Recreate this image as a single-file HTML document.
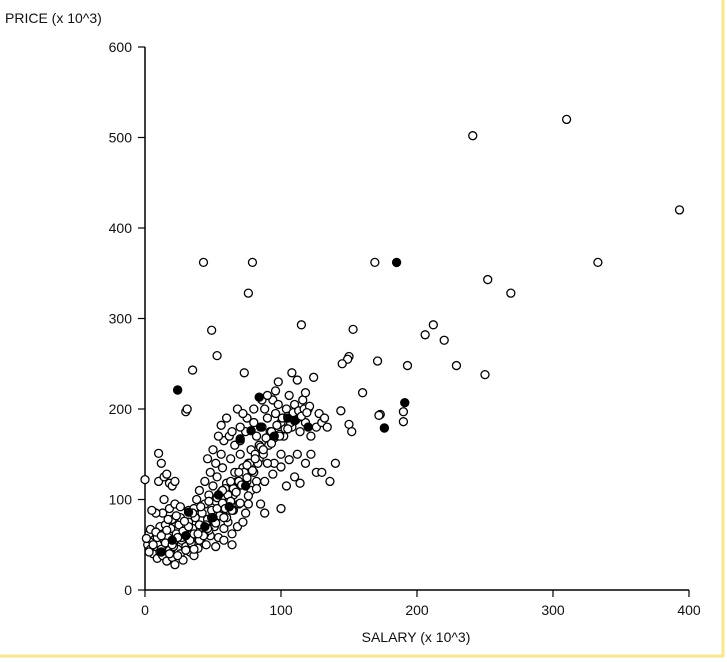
<!DOCTYPE html>
<html><head><meta charset="utf-8"><style>
html,body{margin:0;padding:0;background:#fff;}
svg{display:block;font-family:"Liberation Sans",sans-serif;}
</style></head><body>
<svg id="chart" width="727" height="662" viewBox="0 0 727 662" xmlns="http://www.w3.org/2000/svg">
<rect x="0" y="0" width="727" height="662" fill="#fff"/>
<line x1="723" y1="0" x2="723" y2="657" stroke="#fbe68a" stroke-width="3"/>
<line x1="0" y1="656" x2="724" y2="656" stroke="#fbe68a" stroke-width="3"/>
<text x="5" y="23" font-size="14" fill="#111">PRICE (x 10^3)</text>
<text x="416" y="642" font-size="14" fill="#111" text-anchor="middle">SALARY (x 10^3)</text>
<g id="axes"></g>
<g id="marks"></g>
</svg>
<script>
const xTicks=[0,100,200,300,400];
const yTicks=[0,100,200,300,400,500,600];
const openSalary=[0,10,43,79,76,49,53,35,73,30,31,115,153,150,149,169,171,193,241,310,252,269,333,393,212,206,220,229,250,190,190,173,
2,4,5,6,7,8,9,10,11,12,13,14,15,16,17,18,19,20,21,22,23,24,25,26,27,28,29,30,31,32,33,34,35,36,37,38,39,40,3,11,15,20,26,32,13,18,22,8,
41,42,43,44,45,46,47,48,49,50,51,52,53,54,55,56,57,58,59,60,61,62,63,64,65,66,67,68,69,70,40,44,38,36,48,52,56,46,50,58,62,54,66,70,74,72,75,76,78,80,82,84,86,88,90,92,94,96,98,100,102,104,106,108,110,112,114,116,118,120,122,124,126,128,130,132,134,
74,78,80,82,85,88,92,95,100,65,72,64,58,52,60,68,76,84,90,100,104,110,114,118,122,126,130,140,136,144,150,152,160,172,145,70,75,80,86,90,96,108,112,118,98,60,56,64,68,72,
10,14,16,18,20,22,12,5,14,26,
1,3,6,9,12,15,18,21,24,27,30,33,36,4,8,12,16,20,24,28,32,36,40,44,17,23,29,35,41,47,53,59,
45,49,53,57,61,65,69,73,77,81,85,89,93,97,101,105,109,113,117,121,
43,47,51,55,59,63,67,71,75,79,83,87,91,95,99,103,107,111,115,119,
39,46,52,58,64,70,76,82,88,94,100,106,112,57,63,69,75,81,87,93,99,105];
const openPrice=[122,151,362,362,328,287,259,243,240,197,200,293,288,258,255,362,253,248,502,520,343,328,362,420,293,282,276,248,238,197,186,194,
50,45,55,40,60,48,35,52,42,62,38,55,47,32,58,44,68,36,52,28,62,45,72,40,55,33,65,48,58,75,42,52,68,38,80,60,46,72,62,70,72,78,80,88,85,90,95,85,
55,85,65,95,50,78,105,60,88,115,70,98,125,58,82,108,135,68,92,118,75,100,145,62,88,130,110,70,95,150,110,120,100,90,130,140,150,145,155,165,170,170,160,165,175,135,120,95,155,185,170,145,180,200,190,175,210,195,205,185,170,200,215,180,205,190,175,210,185,200,170,235,180,195,185,190,180,
85,110,130,120,95,85,165,140,150,105,75,50,55,48,80,120,140,160,140,90,115,125,118,140,150,130,130,140,120,198,183,175,218,193,250,180,190,200,210,215,220,240,232,218,230,190,182,175,200,195,
120,125,128,118,115,120,140,88,100,92,
57,42,50,58,45,52,40,48,38,58,44,55,62,67,64,60,66,50,58,65,70,45,55,62,78,82,76,85,92,98,102,112,
72,80,90,96,105,112,120,130,140,150,158,168,175,182,190,192,196,198,200,203,
60,66,75,82,90,98,108,116,124,132,140,150,160,168,172,178,185,188,192,196,
62,68,74,80,88,96,104,112,120,128,136,144,150,110,120,130,138,145,155,162,170,178];
const filledSalary=[24,185,191,176,110,84,78,95,70,120,74,54,50,44,32,30,20,12,62,105,85];
const filledPrice=[221,362,207,179,187,213,176,170,167,180,115,105,80,70,86,60,55,42,92,190,180];

const NS="http://www.w3.org/2000/svg";
const X0=145,X1=689,Y0=590,Y1=47;
const xs=v=>X0+(v/400)*(X1-X0);
const ys=v=>Y0-(v/600)*(Y0-Y1);
const axes=document.getElementById('axes'),marks=document.getElementById('marks');
function mk(tag,attrs,parent){const e=document.createElementNS(NS,tag);for(const k in attrs)e.setAttribute(k,attrs[k]);parent.appendChild(e);return e;}
let l=mk('line',{x1:X0,y1:Y1,x2:X0,y2:Y0,stroke:'#000','stroke-width':1.5},axes);


l=mk('line',{x1:X0,y1:Y0,x2:X1,y2:Y0,stroke:'#000','stroke-width':1.5},axes);


yTicks.forEach(t=>{
  const y=ys(t);
  const tk=mk('line',{x1:X0-7,y1:y,x2:X0,y2:y,stroke:'#000','stroke-width':1.2},axes);
  
  
  const tx=mk('text',{x:X0-13,y:y+5,'font-size':14,'text-anchor':'end',fill:'#111'},axes);
  tx.textContent=t;
  
  
});
xTicks.forEach(t=>{
  const x=xs(t);
  const tk=mk('line',{x1:x,y1:Y0,x2:x,y2:Y0+7,stroke:'#000','stroke-width':1.2},axes);
  
  
  const tx=mk('text',{x:x,y:Y0+25,'font-size':14,'text-anchor':'middle',fill:'#111'},axes);
  tx.textContent=t;
  
  
});
openSalary.forEach((s,i)=>{
  const c=mk('circle',{cx:xs(s),cy:ys(openPrice[i]),r:4,fill:'#fff',stroke:'#000','stroke-width':1.3},marks);
  
  
});
filledSalary.forEach((s,i)=>{
  const c=mk('circle',{cx:xs(s),cy:ys(filledPrice[i]),r:4.2,fill:'#000',stroke:'#000','stroke-width':1},marks);
  
  
});
</script>
</body></html>
